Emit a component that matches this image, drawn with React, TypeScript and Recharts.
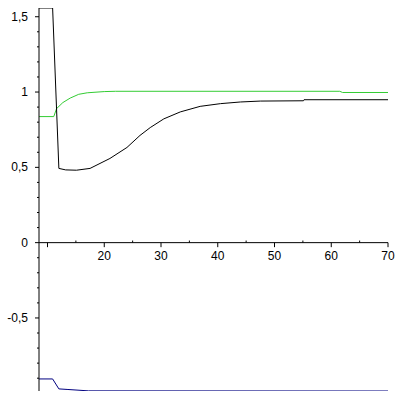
import { LineChart, Line, XAxis, YAxis, ReferenceLine, ReferenceDot } from 'recharts'

// three curves
const BLACK_X = [8.5, 10.9, 12.0, 13.2, 15.1, 17.5, 21.0, 24.0, 26.3, 28.1, 30.5, 33.4, 36.9, 40.5, 44.0, 47.5, 55.1, 55.2, 70]
const BLACK_Y = [1.558, 1.558, 0.493, 0.483, 0.481, 0.493, 0.559, 0.632, 0.712, 0.764, 0.822, 0.868, 0.905, 0.923, 0.934, 0.94, 0.942, 0.949, 0.949]

const GREEN_X = [8.5, 11.1, 11.6, 12.7, 14.0, 15.5, 17.0, 20.0, 22.0, 61.5, 62.0, 70]
const GREEN_Y = [0.837, 0.837, 0.89, 0.93, 0.96, 0.985, 0.995, 1.003, 1.005, 1.005, 0.997, 0.997]

const BLUE_X = [8.5, 10.9, 12.0, 13.6, 17.2, 70]
const BLUE_Y = [-0.905, -0.905, -0.971, -0.975, -0.984, -0.985]

const X_MAJOR = [10, 20, 30, 40, 50, 60, 70]
const X_MINOR = [15, 25, 35, 45, 55, 65]
const X_LABELS = [20, 30, 40, 50, 60, 70]

const Y_MAJOR = [-0.5, 0, 0.5, 1, 1.5]
const Y_MINOR = [-0.9, -0.8, -0.7, -0.6, -0.4, -0.3, -0.2, -0.1, 0.1, 0.2, 0.3, 0.4, 0.6, 0.7, 0.8, 0.9, 1.1, 1.2, 1.3, 1.4]

const FONT = '"Liberation Sans", Arial, sans-serif'

const toPoints = (xs: number[], ys: number[]) => xs.map((x, i) => ({ x, y: ys[i] }))

const fmt = (v: number) => String(v).replace('.', ',')

function YTick(props: any) {
  const { x, y, payload } = props
  const major = Y_MAJOR.includes(payload.value)
  return (
    <g>
      <line x1={x - (major ? 4 : 2)} x2={x} y1={y} y2={y} stroke="#000" />
      {major && (
        <text x={x - 11} y={y} dy={4} textAnchor="end" fontSize={12} fontFamily={FONT} fill="#000">
          {fmt(payload.value)}
        </text>
      )}
    </g>
  )
}

export default function App() {
  const yTicks = [...Y_MINOR, ...Y_MAJOR].sort((a, b) => a - b)
  return (
    <div style={{ position: 'absolute', left: 0, top: 0, width: 398, height: 400, background: '#fff' }}>
      <LineChart width={398} height={400} margin={{ top: 8, right: 10, bottom: 9, left: 0 }}>
        <XAxis type="number" dataKey="x" domain={[8.5, 70]} hide allowDataOverflow />
        <YAxis
          type="number"
          domain={[-0.985, 1.558]}
          ticks={yTicks}
          interval={0}
          width={39}
          tickSize={0}
          tickMargin={0}
          tick={<YTick />}
          axisLine={{ stroke: '#000' }}
          tickLine={false}
          allowDataOverflow
        />

        {/* x axis crosses at y = 0 */}
        <ReferenceLine y={0} stroke="#000" />
        {X_MAJOR.map((t) => (
          <ReferenceLine key={`mj-${t}`} segment={[{ x: t, y: 0 }, { x: t, y: -0.03 }]} stroke="#000" />
        ))}
        {X_MINOR.map((t) => (
          <ReferenceLine key={`mn-${t}`} segment={[{ x: t, y: 0 }, { x: t, y: 0.014 }]} stroke="#000" />
        ))}
        {X_LABELS.map((t) => (
          <ReferenceDot
            key={`lb-${t}`}
            x={t}
            y={0}
            r={0}
            fill="none"
            stroke="none"
            label={{ value: String(t), position: 'bottom', offset: 9, fontSize: 12, fontFamily: FONT, fill: '#000' }}
          />
        ))}

        <Line data={toPoints(GREEN_X, GREEN_Y)} dataKey="y" type="linear" stroke="#33cc33" strokeWidth={1} dot={false} isAnimationActive={false} />
        <Line data={toPoints(BLACK_X, BLACK_Y)} dataKey="y" type="linear" stroke="#000" strokeWidth={1} dot={false} isAnimationActive={false} />
        <Line data={toPoints(BLUE_X, BLUE_Y)} dataKey="y" type="linear" stroke="#000080" strokeWidth={1} dot={false} isAnimationActive={false} />
      </LineChart>
    </div>
  )
}
